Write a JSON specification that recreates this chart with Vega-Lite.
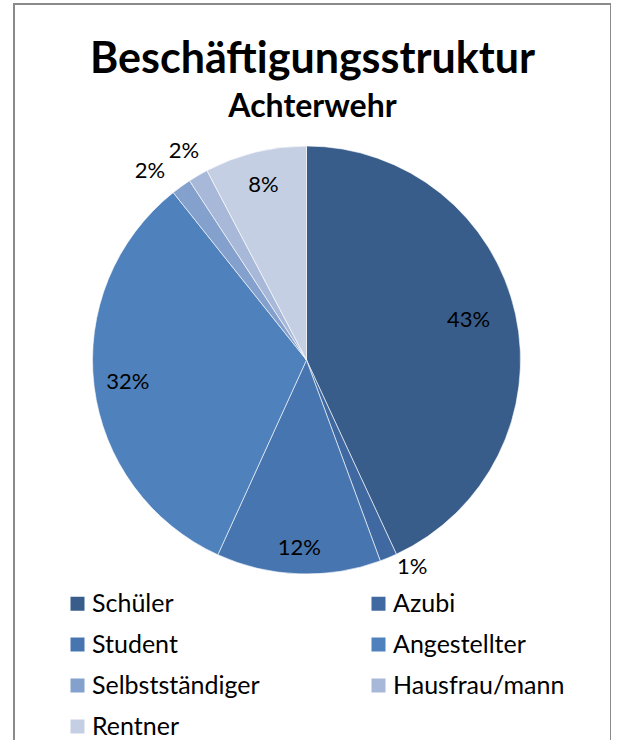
{
  "$schema": "https://vega.github.io/schema/vega-lite/v6.json",
  "width": 597,
  "height": 760,
  "autosize": {"type": "none"},
  "padding": {"left": 14, "top": 4, "right": 0, "bottom": 0},
  "background": "white",
  "view": {"stroke": "#8a8a8a", "strokeWidth": 2},
  "title": {
    "text": "Beschäftigungsstruktur",
    "subtitle": "Achterwehr",
    "anchor": "middle",
    "orient": "top",
    "offset": -119,
    "font": "Lato",
    "fontSize": 43,
    "fontWeight": "bold",
    "color": "black",
    "subtitleFont": "Lato",
    "subtitleFontSize": 32,
    "subtitleFontWeight": "bold",
    "subtitleColor": "black",
    "subtitlePadding": 10
  },
  "data": {
    "values": [
      {"i": 1, "cat": "Schüler", "v": 43.1, "label": "43%"},
      {"i": 2, "cat": "Azubi", "v": 1.3, "label": "1%"},
      {"i": 3, "cat": "Student", "v": 12.4, "label": "12%"},
      {"i": 4, "cat": "Angestellter", "v": 32.5, "label": "32%"},
      {"i": 5, "cat": "Selbstständiger", "v": 1.5, "label": "2%"},
      {"i": 6, "cat": "Hausfrau/mann", "v": 1.5, "label": "2%"},
      {"i": 7, "cat": "Rentner", "v": 7.7, "label": "8%"}
    ]
  },
  "encoding": {
    "theta": {"field": "v", "type": "quantitative", "stack": true},
    "order": {"field": "i", "type": "quantitative", "sort": "ascending"}
  },
  "layer": [
    {
      "mark": {"type": "arc", "radius": 214, "stroke": "white", "strokeWidth": 0.6, "xOffset": -6, "yOffset": -24},
      "encoding": {
        "color": {
          "field": "cat",
          "type": "nominal",
          "scale": {
            "domain": ["Schüler", "Azubi", "Student", "Angestellter", "Selbstständiger", "Hausfrau/mann", "Rentner"],
            "range": ["#385d8a", "#3f69a0", "#4675b0", "#4f81bd", "#84a0cc", "#a8b8d8", "#c5cfe3"]
          },
          "legend": {
            "title": null,
            "orient": "none",
            "direction": "horizontal",
            "legendX": 51,
            "legendY": 587,
            "columns": 2,
            "columnPadding": 106,
            "rowPadding": 15,
            "symbolType": "square",
            "symbolSize": 196,
            "symbolStrokeWidth": 0,
            "symbolOffset": 0,
            "labelOffset": 2,
            "labelFont": "Lato",
            "labelFontSize": 25,
            "labelColor": "black",
            "labelLimit": 300
          }
        }
      }
    },
    {
      "mark": {"type": "text", "radius": 180, "font": "Lato", "fontSize": 22, "color": "black", "xOffset": -6, "yOffset": -24},
      "encoding": {
        "text": {"condition": {"test": "datum.cat === 'Angestellter' || datum.cat === 'Rentner'", "field": "label"}, "value": ""}
      }
    },
    {
      "mark": {"type": "text", "radius": 168, "font": "Lato", "fontSize": 22, "color": "black", "xOffset": -8, "yOffset": -28},
      "encoding": {
        "text": {"condition": {"test": "datum.cat === 'Schüler'", "field": "label"}, "value": ""}
      }
    },
    {
      "mark": {"type": "text", "radius": 188, "font": "Lato", "fontSize": 22, "color": "black", "xOffset": -6, "yOffset": -24},
      "encoding": {
        "text": {"condition": {"test": "datum.cat === 'Student'", "field": "label"}, "value": ""}
      }
    },
    {
      "mark": {"type": "text", "radius": 232, "font": "Lato", "fontSize": 22, "color": "black", "xOffset": 11, "yOffset": -31},
      "encoding": {
        "text": {"condition": {"test": "datum.cat === 'Azubi'", "field": "label"}, "value": ""}
      }
    },
    {
      "mark": {"type": "text", "radius": 240, "font": "Lato", "fontSize": 22, "color": "black", "xOffset": -22, "yOffset": -18},
      "encoding": {
        "text": {"condition": {"test": "datum.cat === 'Selbstständiger'", "field": "label"}, "value": ""}
      }
    },
    {
      "mark": {"type": "text", "radius": 242, "font": "Lato", "fontSize": 22, "color": "black", "xOffset": -6, "yOffset": -24},
      "encoding": {
        "text": {"condition": {"test": "datum.cat === 'Hausfrau/mann'", "field": "label"}, "value": ""}
      }
    }
  ]
}
